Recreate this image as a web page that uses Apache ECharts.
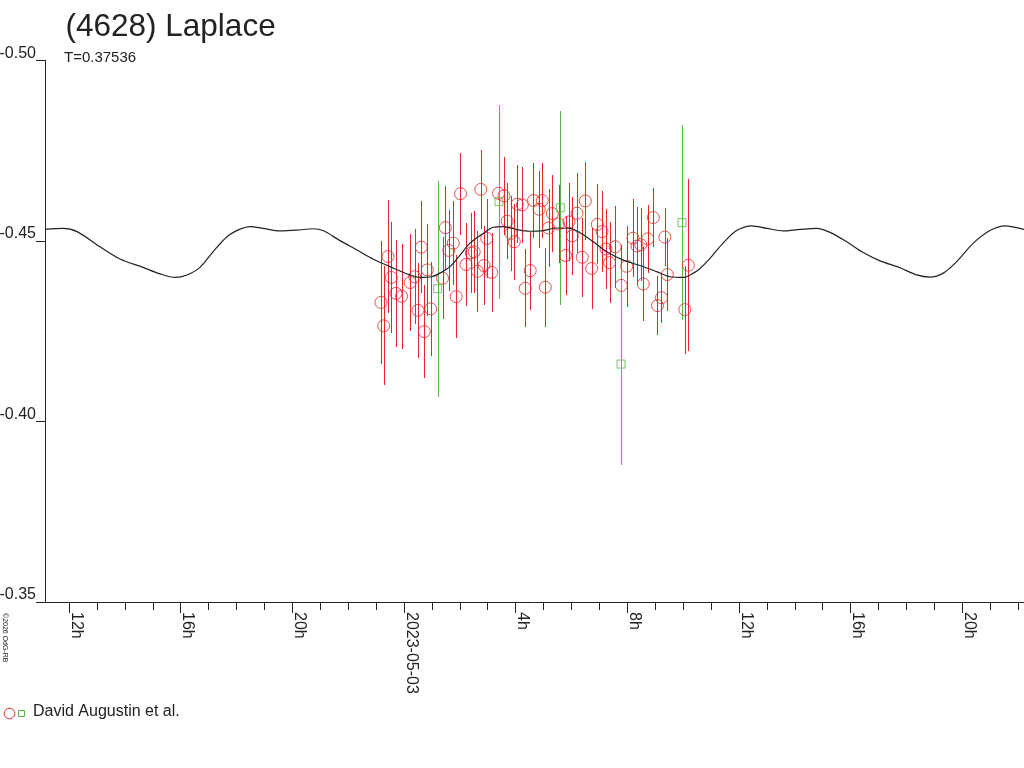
<!DOCTYPE html>
<html>
<head>
<meta charset="utf-8">
<title>(4628) Laplace</title>
<script src="https://cdn.jsdelivr.net/npm/echarts@6.0.0/dist/echarts.min.js"></script>
<style>
  html, body { margin: 0; padding: 0; background: #fff; }
  #chart { width: 1024px; height: 768px; }
</style>
</head>
<body>
<div id="chart"></div>
<script>
// time in hours from 2023-05-02 00:00 UT, magnitude (reduced)
var redTime = [23.176, 23.273, 23.427, 23.545, 23.714, 23.911, 24.222, 24.384, 24.502, 24.620,
  24.728, 24.835, 24.957, 25.380, 25.480, 25.605, 25.766, 25.870, 26.024, 26.221,
  26.411, 26.515, 26.633, 26.751, 26.866, 26.966, 27.145, 27.386, 27.583, 27.697,
  27.833, 27.951, 28.055, 28.238, 28.342, 28.521, 28.639, 28.843, 28.954, 29.062,
  29.177, 29.313, 29.535, 29.786, 29.911, 30.029, 30.198, 30.387, 30.495, 30.724,
  30.925, 31.093, 31.236, 31.362, 31.566, 31.784, 31.978, 32.204, 32.347, 32.479,
  32.573, 32.730, 32.931, 33.081, 33.224, 33.343, 33.432, 34.059, 34.185];
var redMag = [-0.4330, -0.4265, -0.4457, -0.4399, -0.4355, -0.4347, -0.4385, -0.4401, -0.4308, -0.4483,
  -0.4249, -0.4420, -0.4312, -0.4397, -0.4537, -0.4474, -0.4494, -0.4346, -0.4631, -0.4435,
  -0.4467, -0.4470, -0.4416, -0.4643, -0.4432, -0.4507, -0.4413, -0.4632, -0.4625, -0.4555,
  -0.4521, -0.4498, -0.4602, -0.4600, -0.4369, -0.4418, -0.4612, -0.4588, -0.4612, -0.4372,
  -0.4536, -0.4576, -0.4547, -0.4460, -0.4553, -0.4514, -0.4577, -0.4455, -0.4611, -0.4424,
  -0.4546, -0.4526, -0.4478, -0.4440, -0.4484, -0.4377, -0.4430, -0.4508, -0.4486, -0.4490,
  -0.4381, -0.4506, -0.4565, -0.4321, -0.4343, -0.4511, -0.4407, -0.4310, -0.4433];
var redErr = [0.0171, 0.0165, 0.0157, 0.0154, 0.0148, 0.0145, 0.0135, 0.0132, 0.0132, 0.0128,
  0.0129, 0.0128, 0.0130, 0.0114, 0.0116, 0.0113, 0.0116, 0.0116, 0.0113, 0.0114,
  0.0111, 0.0113, 0.0112, 0.0109, 0.0110, 0.0109, 0.0109, 0.0106, 0.0108, 0.0106,
  0.0105, 0.0105, 0.0108, 0.0106, 0.0108, 0.0108, 0.0105, 0.0107, 0.0105, 0.0109,
  0.0107, 0.0107, 0.0108, 0.0109, 0.0109, 0.0109, 0.0111, 0.0110, 0.0109, 0.0111,
  0.0111, 0.0112, 0.0111, 0.0113, 0.0113, 0.0111, 0.0112, 0.0107, 0.0107, 0.0102,
  0.0102, 0.0094, 0.0082, 0.0082, 0.0069, 0.0080, 0.0100, 0.0122, 0.0238];

var greenTime = [25.208, 27.403, 29.599, 31.774, 33.959];
var greenMag = [-0.4368, -0.4609, -0.4592, -0.4159, -0.4551];
var greenErr = [0.0299, 0.0269, 0.0268, 0.0280, 0.0271];

// model light curve
var curveTime = [11.140, 11.785, 12.287, 13.110, 13.827, 14.651, 15.260, 15.797, 16.227, 16.693,
  17.158, 17.660, 18.126, 18.484, 18.949, 19.558, 20.167, 20.741, 21.099, 21.708,
  22.317, 22.890, 23.499, 24.215, 24.573, 24.993, 25.290, 25.648, 26.006, 26.365,
  26.841, 27.199, 27.557, 28.037, 28.514, 28.990, 29.470, 29.947, 30.305, 30.781,
  31.261, 31.856, 32.454, 33.052, 33.529, 34.005, 34.364, 34.604, 34.962, 35.438,
  35.918, 36.455, 36.993, 37.587, 38.185, 38.784, 39.260, 39.859, 40.453, 41.052,
  41.768, 42.366, 42.842, 43.319, 43.799, 44.394, 44.992, 45.529, 46.210];
var curveMag = [-0.4532, -0.4535, -0.4526, -0.4484, -0.4450, -0.4427, -0.4409, -0.4399, -0.4406, -0.4427,
  -0.4470, -0.4512, -0.4533, -0.4540, -0.4535, -0.4528, -0.4530, -0.4534, -0.4529, -0.4501,
  -0.4475, -0.4450, -0.4429, -0.4406, -0.4399, -0.4401, -0.4411, -0.4429, -0.4461, -0.4494,
  -0.4521, -0.4538, -0.4540, -0.4532, -0.4527, -0.4529, -0.4536, -0.4535, -0.4523, -0.4498,
  -0.4470, -0.4447, -0.4432, -0.4415, -0.4401, -0.4399, -0.4411, -0.4424, -0.4452, -0.4495,
  -0.4529, -0.4542, -0.4535, -0.4528, -0.4532, -0.4535, -0.4524, -0.4498, -0.4468, -0.4445,
  -0.4426, -0.4406, -0.4400, -0.4411, -0.4443, -0.4494, -0.4529, -0.4542, -0.4532];

var majorTicks = [12, 16, 20, 24, 28, 32, 36, 40, 44];
var minorTicks = [12, 13, 14, 15, 16, 17, 18, 19, 20, 21, 22, 23, 24, 25, 26, 27, 28, 29,
  30, 31, 32, 33, 34, 35, 36, 37, 38, 39, 40, 41, 42, 43, 44, 45, 46];
var dateLabels = { 24: '2023-05-03' };

var RED = '#e8242c';
var GREEN = '#55b844';
var INK = '#222222';
var FONT = 'Liberation Sans, Arial, sans-serif';

function zip3(a, b, c) {
  return a.map(function (v, i) { return [v, b[i], c[i]]; });
}

// vertical error bar, drawn as a 1px filled rect so it stays crisp
function errBars(color) {
  return function (params, api) {
    var t = api.value(0), m = api.value(1), e = api.value(2);
    var p1 = api.coord([t, m - e]);
    var p2 = api.coord([t, m + e]);
    var x = Math.round(p1[0]);
    var y1 = Math.round(Math.min(p1[1], p2[1]));
    var y2 = Math.round(Math.max(p1[1], p2[1]));
    return {
      type: 'rect',
      shape: { x: x, y: y1, width: 1, height: y2 - y1 },
      style: { fill: color }
    };
  };
}

var myChart = echarts.init(document.getElementById('chart'));

var option = {
  animation: false,
  backgroundColor: '#ffffff',
  grid: { left: 45, right: 0, top: 60.5, bottom: 166, containLabel: false, outerBoundsMode: 'none' },
  xAxis: [{
    type: 'value',
    min: 11.14,
    max: 46.21,
    position: 'bottom',
    splitLine: { show: false },
    axisLine: { lineStyle: { color: INK, width: 1 } },
    axisTick: { customValues: majorTicks, length: 11, lineStyle: { color: INK } },
    axisLabel: {
      customValues: majorTicks,
      rotate: -90,
      margin: 10,
      align: 'left',
      verticalAlign: 'bottom',
      lineHeight: 14,
      color: INK,
      fontSize: 16,
      fontFamily: FONT,
      formatter: function (v) {
        if (dateLabels[v]) return dateLabels[v];
        return (v % 24) + 'h';
      }
    }
  }, {
    type: 'value',
    min: 11.14,
    max: 46.21,
    position: 'bottom',
    splitLine: { show: false },
    axisLine: { show: false },
    axisTick: { customValues: minorTicks, length: 8, lineStyle: { color: INK } },
    axisLabel: { show: false }
  }],
  yAxis: {
    type: 'value',
    inverse: true,
    min: -0.50,
    max: -0.35,
    interval: 0.05,
    splitLine: { show: false },
    axisLine: { show: true, lineStyle: { color: INK, width: 1 } },
    axisTick: { show: true, length: 9, lineStyle: { color: INK } },
    axisLabel: {
      margin: 9,
      verticalAlign: 'bottom',
      lineHeight: 14,
      color: INK,
      fontSize: 16,
      fontFamily: FONT,
      formatter: function (v) { return v.toFixed(2); }
    }
  },
  series: [{
    type: 'custom',
    name: 'red bars',
    renderItem: errBars(RED),
    data: zip3(redTime, redMag, redErr),
    encode: { x: 0, y: 1 },
    z: 2
  }, {
    type: 'custom',
    name: 'green bars',
    renderItem: errBars(GREEN),
    data: zip3(greenTime, greenMag, greenErr),
    encode: { x: 0, y: 1 },
    z: 2
  }, {
    type: 'scatter',
    name: 'David Augustin et al.',
    symbol: 'circle',
    symbolSize: 12,
    itemStyle: { color: 'rgba(0,0,0,0)', borderColor: RED, borderWidth: 1 },
    data: redTime.map(function (t, i) { return [t, redMag[i]]; }),
    z: 3
  }, {
    type: 'scatter',
    name: 'David Augustin et al. (2)',
    symbol: 'rect',
    symbolSize: 8,
    itemStyle: { color: 'rgba(0,0,0,0)', borderColor: GREEN, borderWidth: 1 },
    data: greenTime.map(function (t, i) { return [t, greenMag[i]]; }),
    z: 3
  }, {
    type: 'line',
    name: 'model',
    smooth: 0.3,
    showSymbol: false,
    lineStyle: { color: INK, width: 1.2 },
    data: curveTime.map(function (t, i) { return [t, curveMag[i]]; }),
    z: 4
  }],
  graphic: [{
    type: 'text', x: 65.5, y: 27,
    style: { text: '(4628) Laplace', fontSize: 31.5, fontFamily: FONT, fill: INK,
             textAlign: 'left', textVerticalAlign: 'middle' }
  }, {
    type: 'text', x: 64, y: 57.5,
    style: { text: 'T=0.37536', fontSize: 15, fontFamily: FONT, fill: INK,
             textAlign: 'left', textVerticalAlign: 'middle' }
  }, {
    type: 'text', x: 4.5, y: 613, rotation: -Math.PI / 2,
    style: { text: '\u00a92026 OdG-RB', fontSize: 7, fontFamily: FONT, fill: INK,
             textAlign: 'left', textVerticalAlign: 'middle' }
  }, {
    type: 'circle', shape: { cx: 9.5, cy: 713.5, r: 5.3 },
    style: { fill: 'none', stroke: RED, lineWidth: 1 }
  }, {
    type: 'rect', shape: { x: 18.5, y: 710.5, width: 6, height: 6 },
    style: { fill: 'none', stroke: GREEN, lineWidth: 1 }
  }, {
    type: 'text', x: 33, y: 711.5,
    style: { text: 'David Augustin et al.', fontSize: 16, fontFamily: FONT, fill: INK,
             textAlign: 'left', textVerticalAlign: 'middle' }
  }]
};

myChart.setOption(option);
</script>
</body>
</html>
